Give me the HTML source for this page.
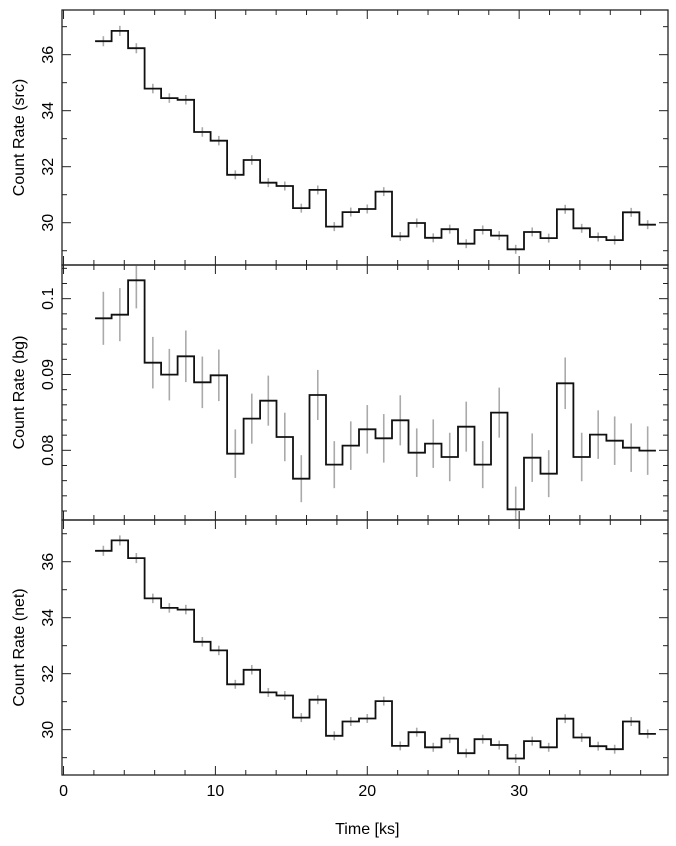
<!DOCTYPE html>
<html><head><meta charset="utf-8"><style>
html,body{margin:0;padding:0;background:#fff;}
svg{display:block;font-family:"Liberation Sans",sans-serif;}
</style></head><body>
<svg id="chart" width="676" height="846" xmlns="http://www.w3.org/2000/svg"></svg>
<script>
const binStart = 2.08;
const binWidth = 1.086;
const srcRates = [36.48,36.85,36.23,34.79,34.45,34.39,33.24,32.93,31.71,32.24,31.43,31.31,30.52,31.17,29.86,30.38,30.49,31.11,29.51,29.99,29.46,29.77,29.25,29.74,29.54,29.05,29.67,29.45,30.48,29.80,29.49,29.38,30.37,29.93];
const srcErrors = [0.18,0.18,0.18,0.17,0.17,0.17,0.17,0.17,0.16,0.17,0.16,0.16,0.16,0.16,0.16,0.16,0.16,0.16,0.16,0.16,0.16,0.16,0.16,0.16,0.16,0.16,0.16,0.16,0.16,0.16,0.16,0.16,0.16,0.16];
const bgRates = [0.09741,0.09789,0.10242,0.09156,0.08998,0.09240,0.08897,0.08989,0.07956,0.08418,0.08655,0.08176,0.07626,0.08730,0.07811,0.08062,0.08277,0.08158,0.08396,0.07969,0.08088,0.07912,0.08312,0.07811,0.08497,0.07222,0.07903,0.07692,0.08884,0.07912,0.08207,0.08127,0.08035,0.07996];
const bgErrors = [0.0035,0.0035,0.0037,0.0034,0.0034,0.0034,0.0034,0.0034,0.0032,0.0033,0.0033,0.0032,0.0031,0.0033,0.0031,0.0032,0.0032,0.0032,0.0033,0.0032,0.0032,0.0032,0.0033,0.0031,0.0033,0.0030,0.0032,0.0031,0.0034,0.0032,0.0032,0.0032,0.0032,0.0032];
const netRates = [36.39,36.76,36.13,34.69,34.35,34.29,33.14,32.83,31.62,32.14,31.33,31.22,30.43,31.07,29.78,30.29,30.40,31.02,29.42,29.91,29.37,29.68,29.16,29.66,29.45,28.97,29.59,29.37,30.39,29.72,29.41,29.30,30.29,29.85];
const netErrors = srcErrors;
const xTicks = [0,10,20,30];
const srcTicks = [30,32,34,36];
const bgTicks = [0.08,0.09,0.1];
const bgTickLabels = ["0.08","0.09","0.1"];
const netTicks = [30,32,34,36];

const NS="http://www.w3.org/2000/svg";
const svg=document.getElementById('chart');
const L=62,R=668;
const xMin=-0.1,xMax=39.8;
function X(v){return L+(v-xMin)/(xMax-xMin)*(R-L);}
function mk(tag,attrs,parent){const e=document.createElementNS(NS,tag);for(const k in attrs)e.setAttribute(k,attrs[k]);(parent||svg).appendChild(e);return e;}

const panels=[
 {name:'src',top:10,bot:265,ymin:28.49,ymax:37.595,rates:srcRates,errs:srcErrors,ticks:srcTicks,labels:srcTicks.map(String),minor:1,major:2,title:'Count Rate (src)'},
 {name:'bg',top:265,bot:520,ymin:0.07081,ymax:0.10444,rates:bgRates,errs:bgErrors,ticks:bgTicks,labels:bgTickLabels,minor:0.002,major:0.01,title:'Count Rate (bg)'},
 {name:'net',top:520,bot:775,ymin:28.38,ymax:37.49,rates:netRates,errs:netErrors,ticks:netTicks,labels:netTicks.map(String),minor:1,major:2,title:'Count Rate (net)'}
];
const defs=mk('defs',{});

panels.forEach(p=>{
  const cp=mk('clipPath',{id:'clip-'+p.name},defs);
  mk('rect',{x:L,y:p.top,width:R-L,height:p.bot-p.top},cp);
  const g=mk('g',{});
  
  
  const dg=mk('g',{'clip-path':'url(#clip-'+p.name+')'},g);
  
  
  const Y=v=>p.bot-(v-p.ymin)/(p.ymax-p.ymin)*(p.bot-p.top);
  p.rates.forEach((r,i)=>{
    const xc=X(binStart+(i+0.5)*binWidth);
    const e=mk('line',{x1:xc,x2:xc,y1:Y(r+p.errs[i]),y2:Y(r-p.errs[i]),stroke:'#aaa','stroke-width':1.6},dg);
    
    
    const h=mk('line',{x1:X(binStart+i*binWidth),x2:X(binStart+(i+1)*binWidth),y1:Y(r),y2:Y(r),stroke:'#aaa','stroke-width':1},dg);
    
    
  });
  let d='';
  p.rates.forEach((r,i)=>{
    const x0=X(binStart+i*binWidth),x1=X(binStart+(i+1)*binWidth),y=Y(r);
    d+=(i===0?'M':'L')+x0.toFixed(1)+','+y.toFixed(1)+'L'+x1.toFixed(1)+','+y.toFixed(1);
  });
  const s=mk('path',{d:d,fill:'none',stroke:'#111','stroke-width':1.8},dg);
  
  
  const f=mk('rect',{x:L,y:p.top,width:R-L,height:p.bot-p.top,fill:'none',stroke:'#222','stroke-width':1.3},g);
  
  
  for(let v=0;v<=xMax;v+=2){
    const len=(v%10===0)?9:5;const x=X(v);
    mk('line',{x1:x,x2:x,y1:p.top,y2:p.top+len,stroke:'#222','stroke-width':1},g);
    mk('line',{x1:x,x2:x,y1:p.bot,y2:p.bot-len,stroke:'#222','stroke-width':1},g);
  }
  const start=Math.ceil(p.ymin/p.minor-1e-6);
  for(let k=start;k*p.minor<=p.ymax;k++){
    const v=k*p.minor;const y=Y(v);
    const isMaj=Math.abs(v/p.major-Math.round(v/p.major))<1e-6;
    const len=isMaj?9:5;
    mk('line',{x1:L,x2:L+len,y1:y,y2:y,stroke:'#222','stroke-width':1},g);
    mk('line',{x1:R,x2:R-len,y1:y,y2:y,stroke:'#222','stroke-width':1},g);
  }
  p.ticks.forEach((v,i)=>{
    const y=Y(v);
    const t=mk('text',{x:0,y:0,transform:`translate(53,${y.toFixed(1)}) rotate(-90)`,'text-anchor':'middle','font-size':16,fill:'#000'},g);
    t.textContent=p.labels[i];
    
    
  });
  const tt=mk('text',{x:0,y:0,transform:`translate(24,${((p.top+p.bot)/2).toFixed(1)}) rotate(-90)`,'text-anchor':'middle','font-size':16,fill:'#000'},g);
  tt.textContent=p.title;
  
  
});
xTicks.forEach(v=>{
  const t=mk('text',{x:X(v),y:796,'text-anchor':'middle','font-size':16,fill:'#000'});
  t.textContent=String(v);
  
  
});
const xt=mk('text',{x:X(20),y:834,'text-anchor':'middle','font-size':16,fill:'#000'});
xt.textContent='Time [ks]';


</script>
</body></html>
